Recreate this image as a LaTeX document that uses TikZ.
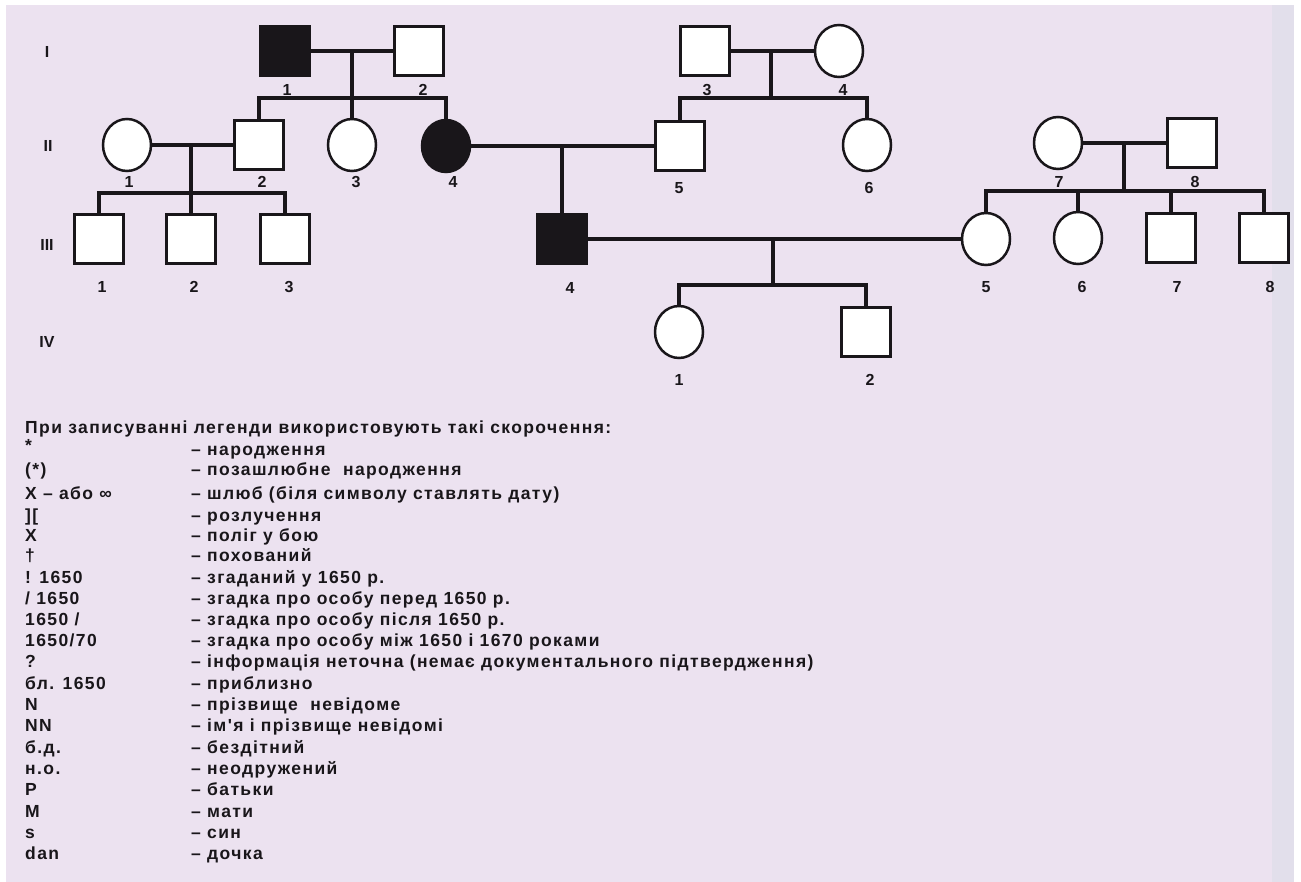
\documentclass[tikz,border=0pt]{standalone}
\usepackage{fontspec}
\setmainfont{Liberation Sans}
\newfontfamily\lgfont{Liberation Sans}[LetterSpace=8]
\usetikzlibrary{shapes.geometric}
\definecolor{bgl}{RGB}{236,226,240}
\definecolor{bandc}{RGB}{226,223,235}
\definecolor{ink}{RGB}{25,22,26}
\begin{document}
\begin{tikzpicture}[x=1pt,y=-1pt,
  sq/.style={draw=ink,line width=2.5pt,fill=white,rectangle,minimum width=49pt,minimum height=49pt,inner sep=0pt},
  ci/.style={draw=ink,line width=2.5pt,fill=white,ellipse,minimum width=48pt,minimum height=52pt,inner sep=0pt},
  aff/.style={fill=ink},
  conn/.style={draw=ink,line width=4.5pt},
  num/.style={font=\fontsize{16}{16}\selectfont\bfseries,text=ink,inner sep=0pt},
  leg/.style={font=\fontsize{17.5}{17.5}\selectfont\lgfont\bfseries,text=ink,inner sep=0pt,anchor=base west},
]
% background
\fill[white] (0,0) rectangle (1301,882);
\fill[bgl] (6,5) rectangle (1272,882);
\fill[bandc] (1272,5) rectangle (1294,882);
\useasboundingbox (0,0) rectangle (1301,882);

% generation labels
\node[num] (rI) at (47,52) {I};
\node[num] (rII) at (48,146) {II};
\node[num] (rIII) at (47,245) {III};
\node[num] (rIV) at (47,342) {IV};

% generation I
\node[sq,aff] (I1) at (285,51) {};
\node[sq] (I2) at (419,51) {};
\node[sq] (I3) at (705,51) {};
\node[ci] (I4) at (839,51) {};
% generation II
\node[ci] (II1) at (127,145) {};
\node[sq] (II2) at (259,145) {};
\node[ci] (II3) at (352,145) {};
\node[ci,aff] (II4) at (446,146) {};
\node[sq] (II5) at (680,146) {};
\node[ci] (II6) at (867,145) {};
\node[ci] (II7) at (1058,143) {};
\node[sq] (II8) at (1192,143) {};
% generation III
\node[sq] (III1) at (99,239) {};
\node[sq] (III2) at (191,239) {};
\node[sq] (III3) at (285,239) {};
\node[sq,aff] (III4) at (562,239) {};
\node[ci] (III5) at (986,239) {};
\node[ci] (III6) at (1078,238) {};
\node[sq] (III7) at (1171,238) {};
\node[sq] (III8) at (1264,238) {};
% generation IV
\node[ci] (IV1) at (679,332) {};
\node[sq] (IV2) at (866,332) {};

% junction coordinates
\coordinate (mI12) at (352,51);
\coordinate (sI12) at (352,98);
\coordinate (mI34) at (771,51);
\coordinate (sI34) at (771,98);
\coordinate (mII12) at (191,145);
\coordinate (sII12) at (191,193);
\coordinate (mII45) at (562,146);
\coordinate (mII78) at (1124,143);
\coordinate (sII78) at (1124,191);
\coordinate (mIII45) at (773,239);
\coordinate (sIII45) at (773,285);

% connectors
\draw[conn] (I1) -- (I2);
\draw[conn] (mI12) -- (II3.north);
\draw[conn] (II2.north) |- (sI12) -| (II4.north);
\draw[conn] (I3) -- (I4);
\draw[conn] (mI34) -- (sI34);
\draw[conn] (II5.north) |- (sI34) -| (II6.north);
\draw[conn] (II1) -- (II2);
\draw[conn] (mII12) -- (III2.north);
\draw[conn] (III1.north) |- (sII12) -| (III3.north);
\draw[conn] (II4) -- (II5);
\draw[conn] (mII45) -- (III4.north);
\draw[conn] (II7) -- (II8);
\draw[conn] (mII78) -- (sII78);
\draw[conn] (III5.north) |- (sII78) -| (III8.north);
\draw[conn] (III6.north) -- (III6.north |- sII78);
\draw[conn] (III7.north) -- (III7.north |- sII78);
\draw[conn] (III4) -- (III5);
\draw[conn] (mIII45) -- (sIII45);
\draw[conn] (IV1.north) |- (sIII45) -| (IV2.north);

% individual numbers
\node[num] (nI1) at (287,90) {1};
\node[num] (nI2) at (423,90) {2};
\node[num] (nI3) at (707,90) {3};
\node[num] (nI4) at (843,90) {4};
\node[num] (nII1) at (129,182) {1};
\node[num] (nII2) at (262,182) {2};
\node[num] (nII3) at (356,182) {3};
\node[num] (nII4) at (453,182) {4};
\node[num] (nII5) at (679,188) {5};
\node[num] (nII6) at (869,188) {6};
\node[num] (nII7) at (1059,182) {7};
\node[num] (nII8) at (1195,182) {8};
\node[num] (nIII1) at (102,287) {1};
\node[num] (nIII2) at (194,287) {2};
\node[num] (nIII3) at (289,287) {3};
\node[num] (nIII4) at (570,288) {4};
\node[num] (nIII5) at (986,287) {5};
\node[num] (nIII6) at (1082,287) {6};
\node[num] (nIII7) at (1177,287) {7};
\node[num] (nIII8) at (1270,287) {8};
\node[num] (nIV1) at (679,380) {1};
\node[num] (nIV2) at (870,380) {2};

% legend
\node[leg] (hdr) at (25,433) {При записуванні легенди використовують такі скорочення:};
\node[leg] (k1) at (25,451) {*};
\node[leg] (v1) at (191,455) {– народження};
\node[leg] (k2) at (25,475) {(*)};
\node[leg] (v2) at (191,475) {– позашлюбне\ \ народження};
\node[leg] (k3) at (25,499) {X – або ∞};
\node[leg] (v3) at (191,499) {– шлюб (біля символу ставлять дату)};
\node[leg] (k4) at (25,521) {][};
\node[leg] (v4) at (191,521) {– розлучення};
\node[leg] (k5) at (25,541) {X};
\node[leg] (v5) at (191,541) {– поліг у бою};
\node[leg] (k6) at (25,561) {†};
\node[leg] (v6) at (191,561) {– похований};
\node[leg] (k7) at (25,583) {! 1650};
\node[leg] (v7) at (191,583) {– згаданий у 1650 р.};
\node[leg] (k8) at (25,604) {/ 1650};
\node[leg] (v8) at (191,604) {– згадка про особу перед 1650 р.};
\node[leg] (k9) at (25,625) {1650 /};
\node[leg] (v9) at (191,625) {– згадка про особу після 1650 р.};
\node[leg] (k10) at (25,646) {1650/70};
\node[leg] (v10) at (191,646) {– згадка про особу між 1650 і 1670 роками};
\node[leg] (k11) at (25,667) {?};
\node[leg] (v11) at (191,667) {– інформація неточна (немає документального підтвердження)};
\node[leg] (k12) at (25,689) {бл. 1650};
\node[leg] (v12) at (191,689) {– приблизно};
\node[leg] (k13) at (25,710) {N};
\node[leg] (v13) at (191,710) {– прізвище\ \ невідоме};
\node[leg] (k14) at (25,731) {NN};
\node[leg] (v14) at (191,731) {– ім'я і прізвище невідомі};
\node[leg] (k15) at (25,753) {б.д.};
\node[leg] (v15) at (191,753) {– бездітний};
\node[leg] (k16) at (25,774) {н.о.};
\node[leg] (v16) at (191,774) {– неодружений};
\node[leg] (k17) at (25,795) {P};
\node[leg] (v17) at (191,795) {– батьки};
\node[leg] (k18) at (25,817) {M};
\node[leg] (v18) at (191,817) {– мати};
\node[leg] (k19) at (25,838) {s};
\node[leg] (v19) at (191,838) {– син};
\node[leg] (k20) at (25,859) {dan};
\node[leg] (v20) at (191,859) {– дочка};
\end{tikzpicture}
\end{document}
